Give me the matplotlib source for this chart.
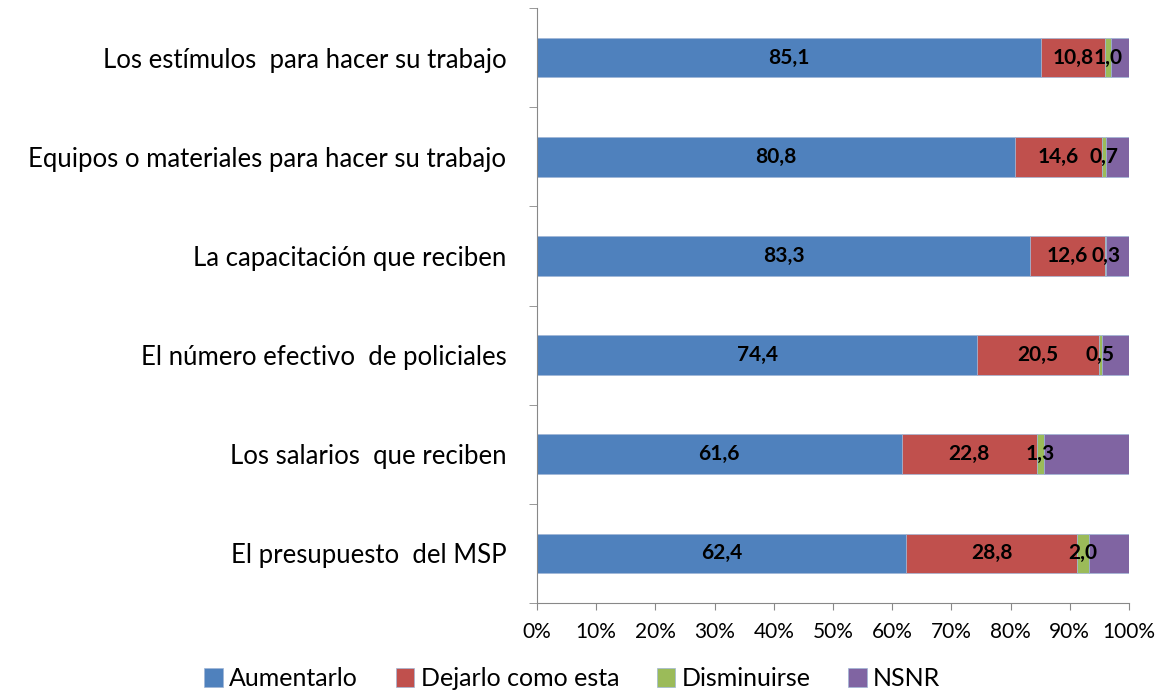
import matplotlib.pyplot as plt
import numpy as np

plt.rcParams['font.family'] = ['Lato', 'DejaVu Sans']

# categories, bottom to top
categories = ['El presupuesto  del MSP', 'Los salarios  que reciben',
              'El número efectivo  de policiales', 'La capacitación que reciben',
              'Equipos o materiales para hacer su trabajo',
              'Los estímulos  para hacer su trabajo']
aumentarlo = [62.4, 61.6, 74.4, 83.3, 80.8, 85.1]
dejarlo = [28.8, 22.8, 20.5, 12.6, 14.6, 10.8]
disminuirse = [2.0, 1.3, 0.5, 0.3, 0.7, 1.0]
nsnr = [6.8, 14.3, 4.6, 3.8, 3.9, 3.1]

series = [('Aumentarlo', aumentarlo, '#4F81BD', True),
          ('Dejarlo como esta', dejarlo, '#C0504D', True),
          ('Disminuirse', disminuirse, '#9BBB59', True),
          ('NSNR', nsnr, '#8064A2', False)]

fig = plt.figure(figsize=(11.61, 6.92), dpi=100)
ax = fig.add_axes([0.4625, 0.1286, 0.5099, 0.8598])

y = np.arange(len(categories))
left = np.zeros(len(categories))
for name, vals, color, labeled in series:
    vals = np.array(vals)
    ax.barh(y, vals, left=left, height=0.4, color=color, label=name,
            edgecolor='#9fb6d6', linewidth=0.5)
    if labeled:
        for yi, l, v in zip(y, left, vals):
            ax.text(l + v / 2, yi, f'{v:.1f}'.replace('.', ','), ha='center',
                    va='center', fontsize=15, fontweight='bold', color='black')
    left += vals

ax.set_xlim(0, 100)
ax.set_ylim(-0.5, len(categories) - 0.5)
ax.set_xticks(np.arange(0, 101, 10))
ax.set_xticklabels([f'{t}%' for t in range(0, 101, 10)], fontsize=15)
ax.set_yticks(y)
ax.set_yticklabels(categories, fontsize=18.5)
ax.set_yticks(np.arange(-0.5, len(categories), 1), minor=True)
ax.tick_params(axis='y', which='major', length=0, pad=22)
ax.tick_params(axis='y', which='minor', length=6, color='#888888')
ax.tick_params(axis='x', length=5, color='#888888', pad=9)

for s in ['top', 'right']:
    ax.spines[s].set_visible(False)
ax.spines['left'].set_color('#888888')
ax.spines['bottom'].set_color('#888888')

fig.legend(loc='lower center', bbox_to_anchor=(0.493, -0.03), ncol=4, frameon=False,
           fontsize=18, handlelength=0.75, handleheight=0.75, handletextpad=0.25,
           columnspacing=1.5)

plt.savefig('out.png', dpi=100)
